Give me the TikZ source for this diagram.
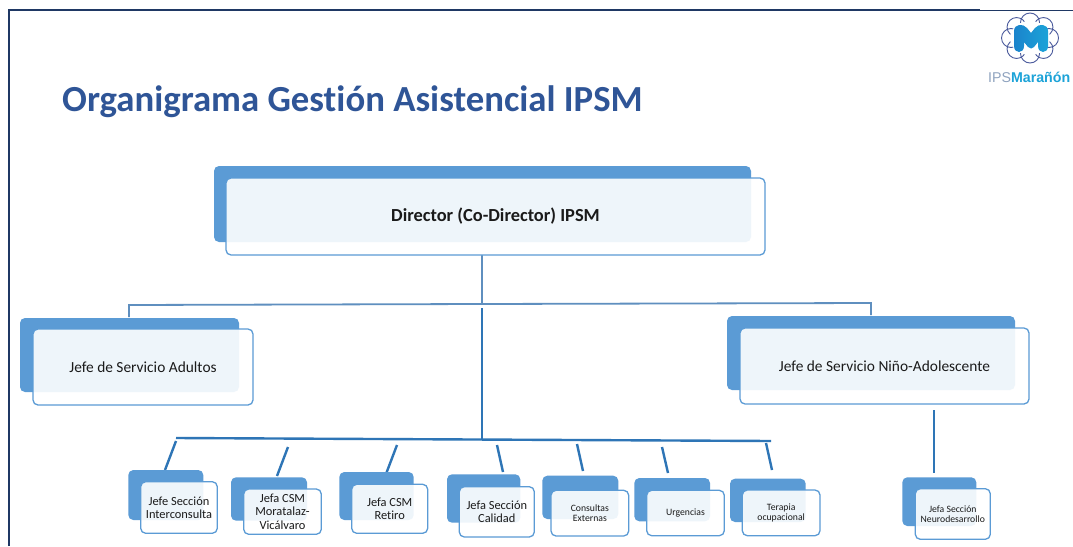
\documentclass[tikz,border=0pt]{standalone}
\usepackage{fontspec}
\setmainfont{Carlito}[Ligatures={TeX,NoCommon}]
\usetikzlibrary{calc}
\definecolor{frameblue}{HTML}{1F3864}
\definecolor{titleblue}{HTML}{2F5597}
\definecolor{backblue}{HTML}{5B9BD5}
\definecolor{linkblue}{HTML}{2E75B6}
\definecolor{thinblue}{HTML}{5F8FBF}
\definecolor{txt}{HTML}{1A1A1A}
\definecolor{cloudc}{HTML}{4A5A9C}
\definecolor{mblue}{HTML}{1CA3D8}
\definecolor{mdark}{HTML}{1B84CC}
\definecolor{ipsgray}{HTML}{8FA3BF}
\tikzset{
  x=1pt,y=-1pt,
  backbox/.style={fill=backblue,draw=none,rounded corners=5pt,inner sep=0pt,outer sep=0pt},
  frontbox/.style={fill=white,fill opacity=.9,text opacity=1,draw=backblue,line width=1.3pt,rounded corners=5pt,inner sep=0pt,outer sep=0pt,align=center,text=txt},
  toplabel/.style={font=\bfseries\fontsize{18.4}{21}\selectfont},
  biglabel/.style={font=\fontsize{15.4}{18}\selectfont},
  smalllabel/.style={font=\fontsize{12.4}{13.3}\selectfont},
  tinylabel/.style={font=\fontsize{9.7}{10.2}\selectfont},
  trunk/.style={draw=linkblue,line width=2.4pt},
  thinlink/.style={draw=thinblue,line width=1.8pt},
}
% name; back x0 x1 y0 y1; front x0 y0 x1 y1; style; text
\newcommand{\orgbox}[7]{%
  \pgfmathsetmacro{\bw}{#3-#2}\pgfmathsetmacro{\bh}{#5-#4}
  \node[backbox,minimum width=\bw pt,minimum height=\bh pt] (#1b) at ({(#2+#3)/2},{(#4+#5)/2}) {};
  \orgfront{#1}#6{#7}}
\newcommand{\orgfront}[7]{%
  \pgfmathsetmacro{\fw}{#4-#2}\pgfmathsetmacro{\fh}{#5-#3}
  \node[frontbox,#6,minimum width=\fw pt,minimum height=\fh pt] (#1) at ({(#2+#4)/2},{(#3+#5)/2}) {#7};}
\begin{document}
\begin{tikzpicture}
\useasboundingbox (0,0) rectangle (1073,546);
\fill[white] (0,0) rectangle (1073,546);
% frame
\coordinate (tl) at (9,10); \coordinate (tm) at (980,10); \coordinate (tr) at (1073,10); \coordinate (bl) at (9,546);
\draw[frameblue,line width=2.2pt] (bl) -- (tl) -- (tm);
\draw[frameblue,line width=.9pt] (tm) -- (tr);
% title
\node[anchor=base west,inner sep=0pt,text=titleblue,font=\bfseries\fontsize{36.75}{40}\selectfont] (title) at (62,111) {Organigrama Gestión Asistencial IPSM};
% logo
\begin{scope}[shift={(1030,38)}]
  \foreach \a in {0,45,...,315}{
    \draw[cloudc,line width=.9pt] ({19*cos(\a)},{-15.5*sin(\a)}) circle[radius=9.5];
  }
  \fill[white] (0,0) ellipse[x radius=20,y radius=17];
\end{scope}
\shade[left color=mdark,right color=mblue] (1014,46) -- (1014,31) .. controls (1014,24) and (1023,23) .. (1027,28) -- (1031,33) -- (1035,28) .. controls (1039,23) and (1048,24) .. (1048,31) -- (1048,46) .. controls (1048,54) and (1038,54) .. (1038,46) -- (1038,42) -- (1034,47) .. controls (1032,49) and (1030,49) .. (1028,47) -- (1024,42) -- (1024,46) .. controls (1024,54) and (1014,54) .. (1014,46) -- cycle;
\node[anchor=base west,inner sep=0pt,font=\fontsize{14.2}{15}\selectfont,text=mblue] (logotext) at (988,82) {\fontspec{Liberation Sans}{\color{ipsgray}IPS}\textbf{Marañón}};
% connectors
\coordinate (hleft) at (129,305); \coordinate (hmid) at (482,304); \coordinate (hright) at (871,303);
\coordinate (busl) at (176,438); \coordinate (busm) at (482,439); \coordinate (busr) at (771,441); \coordinate (tr2) at (482,308);
\coordinate (dirout) at (482,255); \coordinate (adutop) at (129,317); \coordinate (nintop) at (871,315);
\draw[thinlink] (dirout) -- (hmid);
\draw[thinlink] (adutop) -- (hleft) -- (hmid) -- (hright) -- (nintop);
\draw[trunk] (tr2) -- (busm);
\draw[trunk] (busl) -- (busr);
\foreach \n/\xa/\ya/\xb/\yb in {a/176/441/165/470,b/288/447/277/476,c/397/445/386/474,d/497/445/503/472,e/577/444/583/471,f/662/447/668/473,g/766/443/772/470,h/934/410/934/473}{
  \coordinate (\n1) at (\xa,\ya); \coordinate (\n2) at (\xb,\yb);
  \draw[trunk] (\n1) -- (\n2);
}
% boxes
\orgbox{dir}{214}{751}{166}{242}{{226}{178}{765}{255}{toplabel}}{Director (Co-Director) IPSM}
\orgbox{adu}{20}{239}{318}{392}{{33}{329}{253}{405}{biglabel}}{Jefe de Servicio Adultos}
\orgbox{nin}{727}{1015}{316}{390}{{740}{328}{1029}{404}{biglabel}}{Jefe de Servicio Niño-Adolescente}
\orgbox{s1}{128.3}{203.3}{470}{520}{{140.7}{481.7}{217.3}{533.3}{smalllabel}}{Jefe Sección\\Interconsulta}
\orgbox{s2}{231}{307}{477.3}{520.7}{{243.7}{489}{321.3}{534.3}{smalllabel}}{Jefa CSM\\Moratalaz-\\Vicálvaro}
\orgbox{s3}{339.3}{413.7}{472}{520}{{351.7}{484.3}{427.7}{533.3}{smalllabel}}{Jefa CSM\\Retiro}
\orgbox{s4}{447}{520.3}{474.3}{522.7}{{459.3}{486.7}{534.3}{537}{smalllabel}}{Jefa Sección\\Calidad}
\orgbox{s5}{542.3}{618.3}{475.7}{519}{{551}{490.3}{628.7}{536}{tinylabel}}{Consultas\\Externas}
\orgbox{s6}{634.3}{710}{478}{521.3}{{646.7}{490.3}{724.3}{535.7}{tinylabel}}{Urgencias}
\orgbox{s7}{730}{805.7}{478.7}{522}{{742.3}{490}{820}{535.7}{tinylabel}}{Terapia\\ocupacional}
\orgbox{s8}{902.3}{976.3}{477.3}{526}{{915.3}{488.7}{990.3}{539.3}{tinylabel}}{Jefa Sección\\Neurodesarrollo}
\end{tikzpicture}
\end{document}
